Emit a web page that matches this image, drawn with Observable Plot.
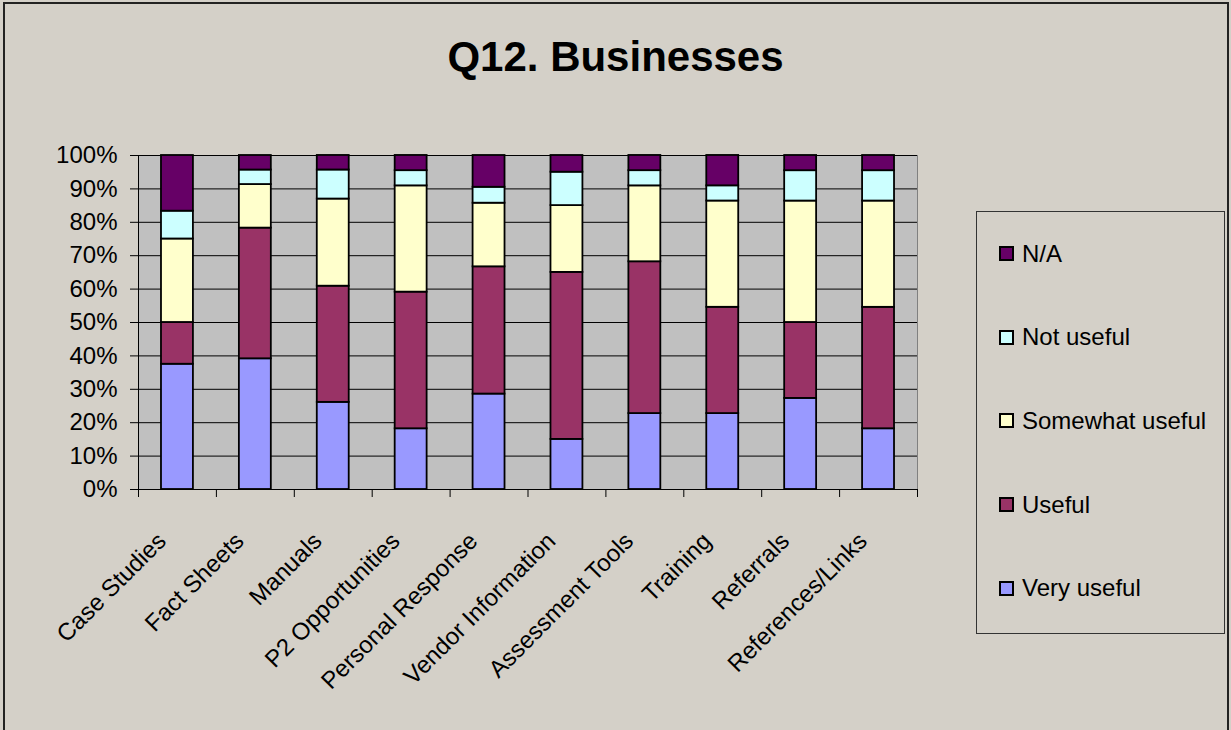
<!DOCTYPE html>
<html>
<head>
<meta charset="utf-8">
<script src="https://cdn.jsdelivr.net/npm/d3@7"></script>
<script src="https://cdn.jsdelivr.net/npm/@observablehq/plot@0.6"></script>
<style>
  html, body { margin: 0; padding: 0; overflow: hidden; background: #D4D0C8; }
  #page { position: relative; width: 1231px; height: 730px; background: #D4D0C8; font-family: "Liberation Sans", Arial, sans-serif; overflow: hidden; }
  #border { position: absolute; left: 3px; top: 2px; width: 1222px; height: 800px; border: 2px solid #222; }
  #title { position: absolute; left: 0; top: 36px; width: 1231px; text-align: center; font-size: 42px; line-height: 42px; font-weight: bold; color: #000; }
  #chart { position: absolute; left: 0; top: 0; }
  #legend { position: absolute; left: 976px; top: 211px; width: 249px; height: 423px; border: 1px solid #333; box-sizing: border-box; padding-top: 0; }
  .item { height: 83.6px; display: flex; align-items: center; font-size: 24px; color: #000; }
  .sw { width: 11px; height: 11px; border: 2px solid #000; margin-left: 22px; margin-right: 8px; flex: none; }
</style>
</head>
<body>
<div id="page">
  <div id="border"></div>
  <div id="chart"></div>
  <div id="title">Q12. Businesses</div>
  <div id="legend"></div>
</div>
<script>
const categories = ["Case Studies", "Fact Sheets", "Manuals", "P2 Opportunities", "Personal Response", "Vendor Information", "Assessment Tools", "Training", "Referrals", "References/Links"];
const seriesNames = ["Very useful", "Useful", "Somewhat useful", "Not useful", "N/A"];
const seriesColors = ["#9999FF", "#993366", "#FFFFCC", "#CCFFFF", "#660066"];
const veryUseful     = [37.5, 39.13, 26.09, 18.18, 28.57, 15.0, 22.73, 22.73, 27.27, 18.18];
const useful         = [12.5, 39.13, 34.78, 40.91, 38.10, 50.0, 45.45, 31.82, 22.73, 36.36];
const somewhatUseful = [25.0, 13.04, 26.09, 31.82, 19.05, 20.0, 22.73, 31.82, 36.36, 31.82];
const notUseful      = [8.33, 4.35, 8.70, 4.55, 4.76, 10.0, 4.55, 4.55, 9.09, 9.09];
const notApplicable  = [16.67, 4.35, 4.35, 4.55, 9.52, 5.0, 4.55, 9.09, 4.55, 4.55];
const yTicks = [0, 10, 20, 30, 40, 50, 60, 70, 80, 90, 100];

const seriesValues = [veryUseful, useful, somewhatUseful, notUseful, notApplicable];

// stacked table
const rows = [];
categories.forEach((c, i) => {
  let acc = 0;
  seriesValues.forEach((vals, s) => {
    rows.push({category: c, i, series: seriesNames[s], y1: acc, y2: acc + vals[i]});
    acc += vals[i];
  });
});

const halfBar = 0.205;

const plot = Plot.plot({
  width: 1231,
  height: 730,
  marginLeft: 138,
  marginRight: 314,
  marginTop: 155,
  marginBottom: 241,
  style: {background: "none", fontFamily: "'Liberation Sans', Arial, sans-serif", fontSize: "24px", color: "#000", overflow: "visible"},
  x: {domain: [0, categories.length], axis: null},
  y: {domain: [0, 100], axis: null},
  color: {domain: seriesNames, range: seriesColors},
  marks: [
    Plot.frame({fill: "#C0C0C0", stroke: "#808080"}),
    Plot.gridY(yTicks, {stroke: "#000", strokeOpacity: 1, strokeWidth: 1}),
    Plot.rect(rows, {
      x1: d => d.i + 0.5 - halfBar,
      x2: d => d.i + 0.5 + halfBar,
      y1: "y1", y2: "y2",
      fill: "series",
      stroke: "#000",
      strokeWidth: 1.8
    }),
    Plot.ruleX([0], {stroke: "#000", strokeWidth: 1}),
    Plot.ruleY([0], {stroke: "#000", strokeWidth: 1}),
    Plot.axisY({ticks: yTicks, tickSize: 8, tickPadding: 13, tickFormat: d => d + "%", fontSize: 24, stroke: "#000", label: null}),
    Plot.axisX({ticks: d3.range(0, categories.length + 1), tickSize: 8, tickFormat: () => "", stroke: "#000", label: null}),
    Plot.text(categories, {
      x: (d, i) => i + 0.5,
      y: () => 0,
      text: d => d,
      rotate: -45,
      textAnchor: "end",
      lineAnchor: "bottom",
      dx: -10,
      dy: 53,
      fontSize: 24,
      fill: "#000"
    })
  ]
});
document.getElementById("chart").appendChild(plot);

// legend (top-to-bottom in reverse order like the reference)
const legend = document.getElementById("legend");
for (let s = seriesNames.length - 1; s >= 0; s--) {
  const item = document.createElement("div");
  item.className = "item";
  const sw = document.createElement("span");
  sw.className = "sw";
  sw.style.background = seriesColors[s];
  const label = document.createElement("span");
  label.textContent = seriesNames[s];
  item.appendChild(sw);
  item.appendChild(label);
  legend.appendChild(item);
}
</script>
</body>
</html>
